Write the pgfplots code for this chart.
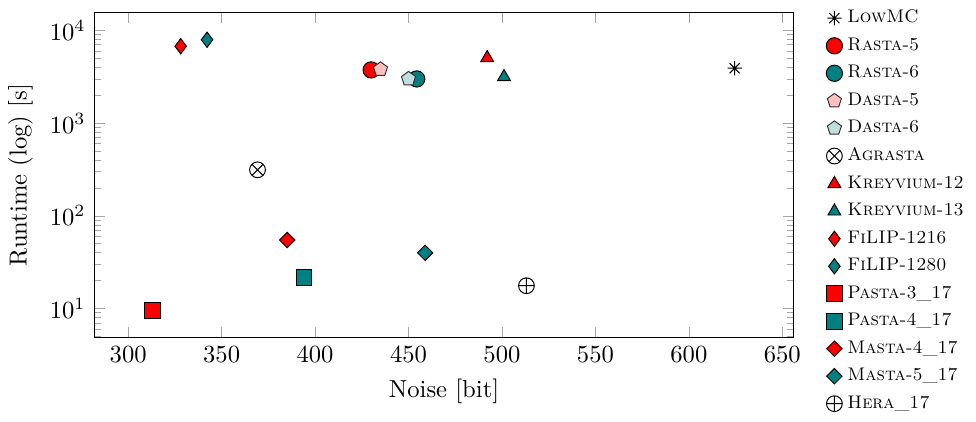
\documentclass[border=0pt]{standalone}
\usepackage{pgfplots}
\pgfplotsset{compat=1.18}
\usetikzlibrary{plotmarks}
\pgfdeclareplotmark{spokes}{%
  \pgfpathmoveto{\pgfqpoint{-\pgfplotmarksize}{0pt}}\pgfpathlineto{\pgfqpoint{\pgfplotmarksize}{0pt}}%
  \pgfpathmoveto{\pgfqpoint{0pt}{-\pgfplotmarksize}}\pgfpathlineto{\pgfqpoint{0pt}{\pgfplotmarksize}}%
  \pgfpathmoveto{\pgfqpoint{-0.707\pgfplotmarksize}{-0.707\pgfplotmarksize}}\pgfpathlineto{\pgfqpoint{0.707\pgfplotmarksize}{0.707\pgfplotmarksize}}%
  \pgfpathmoveto{\pgfqpoint{-0.707\pgfplotmarksize}{0.707\pgfplotmarksize}}\pgfpathlineto{\pgfqpoint{0.707\pgfplotmarksize}{-0.707\pgfplotmarksize}}%
  \pgfusepathqstroke
  \pgfpathcircle{\pgfpointorigin}{0.25\pgfplotmarksize}\pgfusepathqfill
}
\begin{document}
\begin{tikzpicture}
\begin{axis}[
  scale only axis,
  width=284pt, height=132pt,
  ymode=log,
  xmin=281.8, xmax=656.2,
  ymin=4.84, ymax=15560,
  xtick={300,350,400,450,500,550,600,650},
  xlabel={Noise [bit]},
  ylabel={Runtime (log) [s]},
  tick style={gray!70},
  legend style={draw=none, at={(1.035,1.04)}, anchor=north west, font=\fontsize{7.4}{9}\selectfont, row sep=0.6pt},
  legend cell align=left,
  only marks,
]
\addplot[mark=spokes, mark size=2.9pt, black, mark options={line width=0.4pt}] coordinates {(624.5,3900)};
\addlegendentry{\textsc{LowMC}}
\addplot[mark=*, mark size=3.3pt, draw=black, fill=red] coordinates {(430,3740)};
\addlegendentry{\textsc{Rasta-5}}
\addplot[mark=*, mark size=3.3pt, draw=black, fill=teal] coordinates {(454.4,2990)};
\addlegendentry{\textsc{Rasta-6}}
\addplot[mark=pentagon*, mark size=3pt, draw=black!80, fill=red!25] coordinates {(435,3800)};
\addlegendentry{\textsc{Dasta-5}}
\addplot[mark=pentagon*, mark size=3pt, draw=black!80, fill=teal!25] coordinates {(450,3000)};
\addlegendentry{\textsc{Dasta-6}}
\addplot[mark=otimes, mark size=3.2pt, black] coordinates {(369.2,313)};
\addlegendentry{\textsc{Agrasta}}
\addplot[mark=triangle*, mark size=3pt, draw=black, fill=red] coordinates {(492.1,5040)};
\addlegendentry{\textsc{Kreyvium-12}}
\addplot[mark=triangle*, mark size=3pt, draw=black, fill=teal] coordinates {(501.1,3140)};
\addlegendentry{\textsc{Kreyvium-13}}
\addplot[mark=diamond*, mark size=3.1pt, draw=black, fill=red] coordinates {(328.1,6730)};
\addlegendentry{\textsc{FiLIP-1216}}
\addplot[mark=diamond*, mark size=3.1pt, draw=black, fill=teal] coordinates {(342.2,7910)};
\addlegendentry{\textsc{FiLIP-1280}}
\addplot[mark=square*, mark size=3.2pt, draw=black, fill=red] coordinates {(313.2,9.46)};
\addlegendentry{\textsc{Pasta-3\_17}}
\addplot[mark=square*, mark size=3.2pt, draw=black, fill=teal] coordinates {(394.1,21.8)};
\addlegendentry{\textsc{Pasta-4\_17}}
\addplot[mark=square*, mark size=2.2pt, mark options={rotate=45}, draw=black, fill=red] coordinates {(385.1,54.7)};
\addlegendentry{\textsc{Masta-4\_17}}
\addplot[mark=square*, mark size=2.2pt, mark options={rotate=45}, draw=black, fill=teal] coordinates {(458.9,39.9)};
\addlegendentry{\textsc{Masta-5\_17}}
\addplot[mark=oplus, mark size=3.2pt, black] coordinates {(513.1,17.6)};
\addlegendentry{\textsc{Hera\_17}}
\end{axis}
\end{tikzpicture}
\end{document}
